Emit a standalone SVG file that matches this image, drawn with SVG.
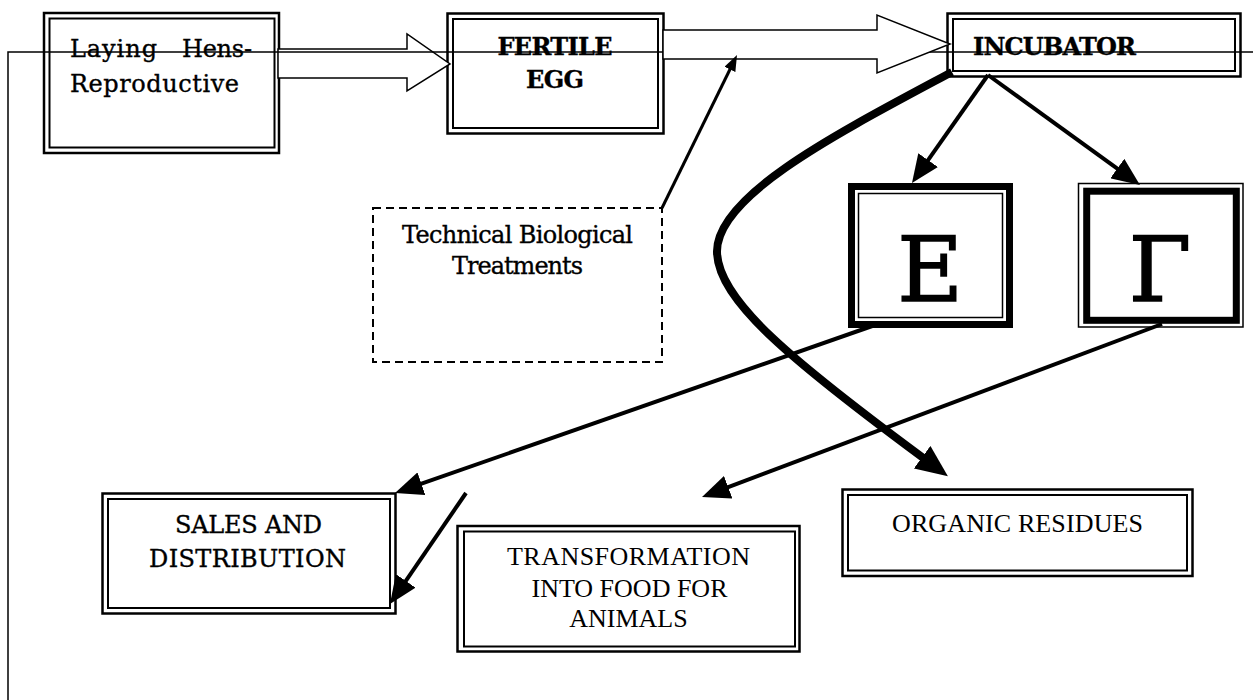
<svg xmlns="http://www.w3.org/2000/svg" width="1253" height="700" viewBox="0 0 1253 700">
<style>
.o{fill:#fff;stroke:#000;stroke-width:2.5}
.i{fill:none;stroke:#000;stroke-width:2}
.c{font-family:"DejaVu Serif","Liberation Serif",serif;font-size:24px;fill:#000;stroke:#000;stroke-width:0.35}
.t{font-family:"Liberation Serif","Times New Roman",serif;font-size:26px;fill:#000}
.big{font-family:"DejaVu Serif","Liberation Serif",serif;font-size:90px;fill:#000;stroke:#000;stroke-width:1.5}
.ln{fill:none;stroke:#000}
.blk{fill:#fff;stroke:#000;stroke-width:1.5;stroke-linejoin:miter}
</style>
<defs>
<marker id="ah" markerUnits="userSpaceOnUse" markerWidth="28" markerHeight="24" refX="12" refY="12" orient="auto"><path d="M0,0 L28,12 L0,24 z" fill="#000"/></marker>
<marker id="ahs" markerUnits="userSpaceOnUse" markerWidth="16" markerHeight="12" refX="6" refY="6" orient="auto"><path d="M0,0 L16,6 L0,12 z" fill="#000"/></marker>
<marker id="ahb" markerUnits="userSpaceOnUse" markerWidth="32" markerHeight="28" refX="14" refY="14" orient="auto"><path d="M0,0 L32,14 L0,28 z" fill="#000"/></marker>
</defs>

<g id="laying-hens">
<rect class="o" x="44" y="13" width="235" height="140"/>
<rect class="i" x="49.5" y="18.5" width="225" height="129"/>
<text class="c" x="70" y="57" textLength="87" stroke-width="0.7">Laying</text>
<text class="c" x="182" y="57" textLength="70" stroke-width="0.7">Hens-</text>
<text class="c" x="70" y="92" textLength="169">Reproductive</text>
</g>

<g id="fertile-egg">
<rect class="o" x="447.5" y="13.5" width="216" height="120"/>
<rect class="i" x="453" y="19" width="205" height="109"/>
<text class="c" x="555" y="55" text-anchor="middle" font-weight="bold" stroke-width="0" textLength="115">FERTILE</text>
<text class="c" x="555" y="88" text-anchor="middle" font-weight="bold" stroke-width="0" textLength="58">EGG</text>
</g>

<g id="incubator">
<rect class="o" x="947.5" y="13.5" width="293" height="63"/>
<rect class="i" x="953" y="19" width="282" height="52"/>
<text class="c" x="973" y="55" font-weight="bold" stroke-width="0" textLength="163">INCUBATOR</text>
</g>

<g id="technical">
<rect x="373" y="208" width="289" height="154" fill="none" stroke="#000" stroke-width="2" stroke-dasharray="8,5"/>
<text class="c" x="517.5" y="243" text-anchor="middle" font-size="23" textLength="231">Technical Biological</text>
<text class="c" x="517.5" y="274" text-anchor="middle" font-size="23" textLength="131">Treatments</text>
</g>

<g id="node-e">
<rect x="851.5" y="186.5" width="158" height="138" fill="#fff" stroke="#000" stroke-width="7"/>
<rect x="858.5" y="193.5" width="144" height="124" fill="none" stroke="#000" stroke-width="1.5"/>
<text class="big" x="930" y="301" text-anchor="middle">E</text>
</g>

<g id="node-gamma">
<rect x="1078.5" y="183.5" width="164.5" height="143.5" fill="#fff" stroke="#000" stroke-width="1.5"/>
<rect x="1086.7" y="191.2" width="149.6" height="129.1" fill="none" stroke="#000" stroke-width="7"/>
<text class="big" x="1160" y="301" text-anchor="middle">Γ</text>
</g>

<g id="sales">
<rect class="o" x="102.5" y="493.5" width="293" height="120"/>
<rect class="i" x="108" y="499" width="282" height="109"/>
<text class="c" x="248.5" y="533" text-anchor="middle" textLength="147">SALES AND</text>
<text class="c" x="247.5" y="567" text-anchor="middle" textLength="197">DISTRIBUTION</text>
</g>

<g id="transformation">
<rect class="o" x="457.5" y="526" width="342" height="125.5"/>
<rect class="i" x="464" y="531.5" width="331" height="115"/>
<text class="t" x="628.5" y="565" text-anchor="middle" textLength="243">TRANSFORMATION</text>
<text class="t" x="629.5" y="597" text-anchor="middle">INTO FOOD FOR</text>
<text class="t" x="628.5" y="627" text-anchor="middle">ANIMALS</text>
</g>

<g id="organic">
<rect class="o" x="842.5" y="489.5" width="350" height="86.5"/>
<rect class="i" x="848" y="495" width="339" height="75.5"/>
<text class="t" x="892" y="532" textLength="251">ORGANIC RESIDUES</text>
</g>

<g id="connectors">
<polygon class="blk" points="278,49 407,49 407,34 450,64 407,91 407,78 278,78"/>
<path class="ln" stroke-width="1.5" d="M8,700 L8,52 L1253,52"/>
<polygon class="blk" points="663,30 877,30 877,15 950,44 877,73 877,59 663,59"/>
<line class="ln" stroke-width="3" x1="662" y1="208" x2="732.6" y2="64" marker-end="url(#ahs)"/>
<line class="ln" stroke-width="4" x1="988" y1="75" x2="921.2" y2="169.9" marker-end="url(#ah)"/>
<line class="ln" stroke-width="4" x1="988" y1="75" x2="1127" y2="175.6" marker-end="url(#ah)"/>
<path class="ln" stroke-width="8" d="M952,72 C840,132 716,195 717,252 C718,300 790,360 933.4,465.5" marker-end="url(#ahb)"/>
<line class="ln" stroke-width="4" x1="878" y1="324" x2="410.1" y2="487.7" marker-end="url(#ah)"/>
<line class="ln" stroke-width="4" x1="466" y1="493" x2="399" y2="590.8" marker-end="url(#ah)"/>
<line class="ln" stroke-width="4" x1="1162" y1="324" x2="717" y2="491.4" marker-end="url(#ah)"/>
</g>
</svg>
